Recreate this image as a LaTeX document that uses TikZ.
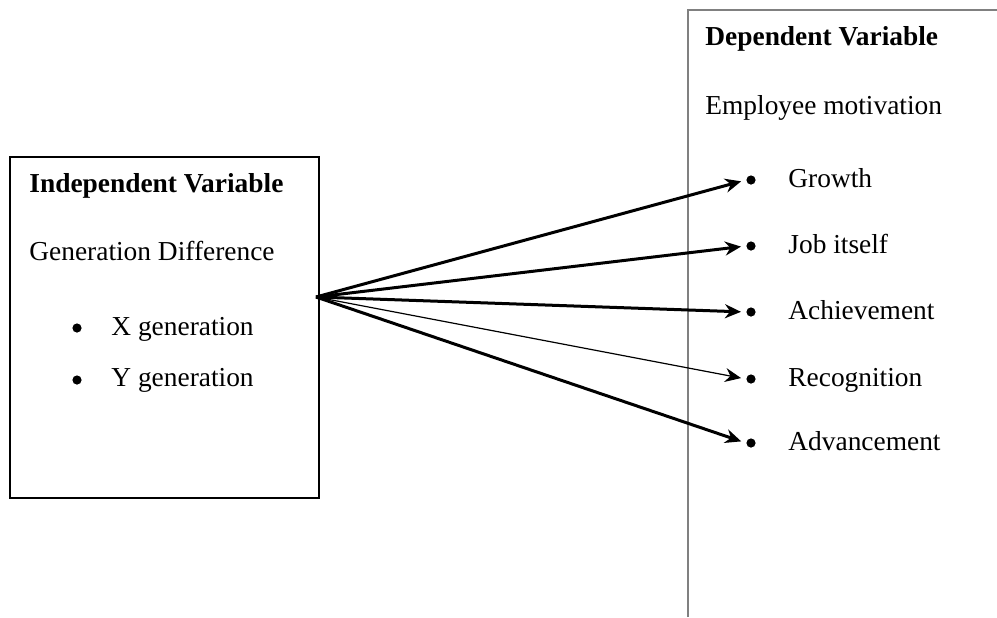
\documentclass[tikz,border=0pt]{standalone}
\usepackage{fontspec}
\setmainfont{Liberation Serif}
\usetikzlibrary{positioning, arrows.meta}

\begin{document}
\begin{tikzpicture}[
    x=0.5pt, y=-0.5pt,
    txt/.style={anchor=base west, inner sep=0pt, font=\fontsize{13.7}{16}\selectfont},
    head/.style={txt, font=\fontsize{13.7}{16}\selectfont\bfseries},
    dot/.style={circle, fill=black, inner sep=0pt, minimum size=4.6pt},
    arrow/.style={line width=1.5pt, -{Stealth[length=8pt, width=7pt]}, shorten >=2.5pt},
    thinarrow/.style={arrow, line width=0.6pt}
    ]
    \useasboundingbox (0,0) rectangle (997,617);

    % independent side
    \node[draw, line width=1pt, minimum width=154.5pt, minimum height=170.5pt, inner sep=0pt] (indep) at (164.5,327.5) {};
    \node[head] (indeptitle) at (29,192) {Independent Variable};
    \node[txt] (gendiff) at (29,260) {Generation Difference};
    \node[dot] (x) at (77,328) {};
    \node[dot] (y) at (77,380) {};
    \node[txt] (xgen) at (111,335) {X generation};
    \node[txt] (ygen) at (111,386) {Y generation};

    % dependent side
    \draw[gray, line width=1pt] (688,617) -- (688,10) -- (997,10);
    \node[head] (deptitle) at (705,45) {Dependent Variable};
    \node[txt] (motiv) at (705,114) {Employee motivation};

    \node[dot] (g1) at (751,180) {};
    \node[dot] (g2) at (751,246) {};
    \node[dot] (g3) at (751,312) {};
    \node[dot] (g4) at (751,379) {};
    \node[dot] (g5) at (751,443) {};

    \node[txt] (growth) at (788,187) {Growth};
    \node[txt] (job) at (788,253) {Job itself};
    \node[txt] (achieve) at (788,319) {Achievement};
    \node[txt] (recog) at (788,386) {Recognition};
    \node[txt] (advance) at (788,450) {Advancement};

    % arrows
    \coordinate (src) at (316,297);
    \foreach \i in {1,2,3,5}
        \draw[arrow] (src) -- (g\i.west);
    \draw[thinarrow] (src) -- (g4.west);

\end{tikzpicture}
\end{document}
